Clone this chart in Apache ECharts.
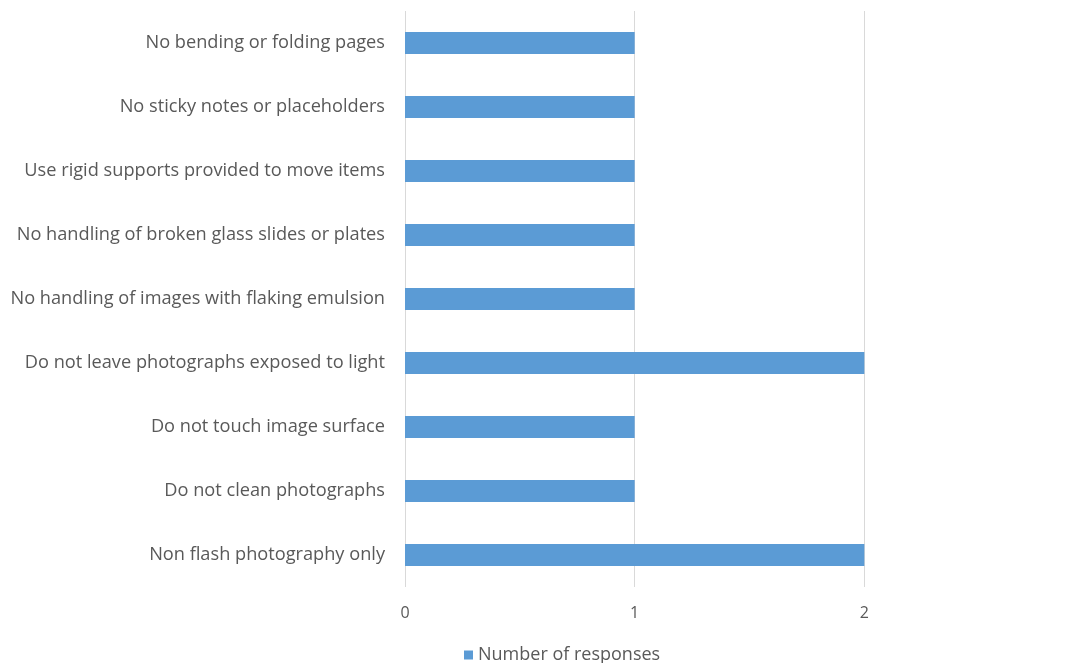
<!DOCTYPE html>
<html>
<head>
<meta charset="utf-8">
<script src="https://cdn.jsdelivr.net/npm/echarts@6/dist/echarts.min.js"></script>
<style>
  html, body { margin: 0; padding: 0; background: #ffffff; }
  #chart { width: 1089px; height: 663px; }
</style>
</head>
<body>
<div id="chart"></div>
<script>
// Handling rules, listed top to bottom
const categories = [
  'No bending or folding pages',
  'No sticky notes or placeholders',
  'Use rigid supports provided to move items',
  'No handling of broken glass slides or plates',
  'No handling of images with flaking emulsion',
  'Do not leave photographs exposed to light',
  'Do not touch image surface',
  'Do not clean photographs',
  'Non flash photography only'
];
const responses = [1, 1, 1, 1, 1, 2, 1, 1, 2];
const seriesName = 'Number of responses';
const xTicks = [0, 1, 2, 3];

const FONT = 'Open Sans';
const TEXT = '#595959';

const chart = echarts.init(document.getElementById('chart'), null, { renderer: 'canvas' });
chart.setOption({
  animation: false,
  textStyle: { fontFamily: FONT },
  // plot area runs slightly past the right edge, so the last tick sits off-canvas
  grid: { left: 405, width: 689, top: 11, height: 576, containLabel: false, outerBoundsMode: 'none' },
  legend: {
    top: 641,
    left: 459,
    itemWidth: 9,
    itemHeight: 9,
    itemGap: 6,
    icon: 'rect',
    textStyle: { color: TEXT, fontSize: 18, fontFamily: FONT },
    data: [seriesName]
  },
  xAxis: {
    type: 'value',
    min: xTicks[0],
    max: xTicks[xTicks.length - 1],
    interval: 1,
    axisLine: { show: false },
    axisTick: { show: false },
    axisLabel: { color: TEXT, fontSize: 16, margin: 18, fontFamily: FONT },
    splitLine: { lineStyle: { color: '#d9d9d9', width: 1 } }
  },
  yAxis: {
    type: 'category',
    inverse: true,
    data: categories,
    axisLine: { show: false },
    axisTick: { show: false },
    axisLabel: { color: TEXT, fontSize: 18.2, margin: 20, fontFamily: FONT }
  },
  series: [{
    name: seriesName,
    type: 'bar',
    data: responses,
    barWidth: 22,
    itemStyle: { color: '#5b9bd5' }
  }]
});
</script>
</body>
</html>
